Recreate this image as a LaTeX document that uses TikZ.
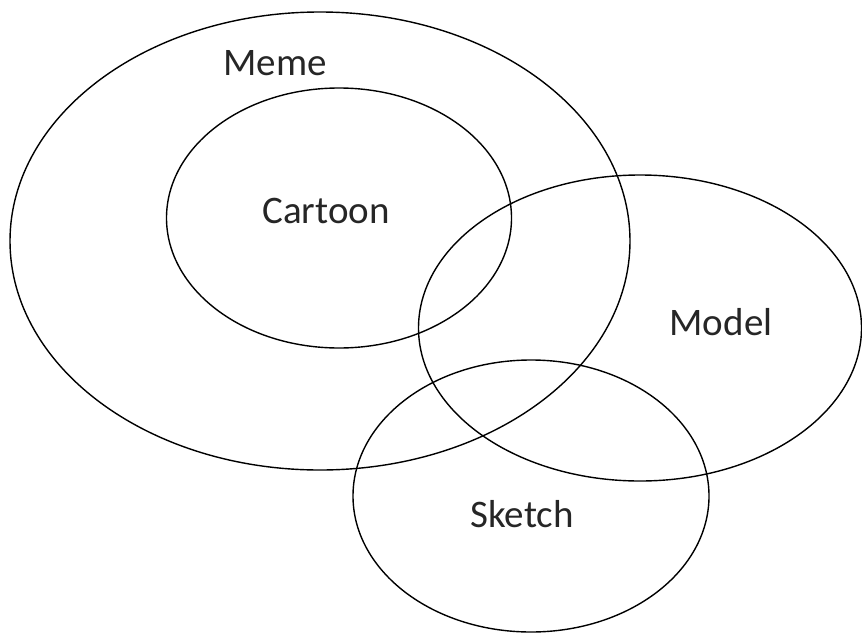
\documentclass[tikz,border=0pt]{standalone}
\usepackage{fontspec}
\setmainfont{Carlito}
\usepackage{tikz}
\usetikzlibrary{shapes.geometric, positioning}

\begin{document}
\begin{tikzpicture}[
    x=1pt, y=-1pt,
    set/.style={ellipse, draw=black, line width=1.4pt, inner sep=0pt},
    setlabel/.style={anchor=base, inner sep=0pt, font=\fontsize{39}{46}\selectfont, text=black!85},
]
    \useasboundingbox (0,0) rectangle (862,635);

    % Sets
    \node (meme) [set, minimum width=620pt, minimum height=458pt] at (320,241) {};
    \node (cartoon) [set, minimum width=345pt, minimum height=260pt] at (339,218) {};
    \node (model) [set, minimum width=443pt, minimum height=306pt] at (640,328) {};
    \node (sketch) [set, minimum width=356pt, minimum height=272pt] at (531,496) {};

    % Labels
    \node (meme_label) [setlabel] at (275,75) {Meme};
    \node (cartoon_label) [setlabel] at (326,223) {Cartoon};
    \node (model_label) [setlabel] at (721,335) {Model};
    \node (sketch_label) [setlabel] at (522,527) {Sketch};

\end{tikzpicture}
\end{document}
